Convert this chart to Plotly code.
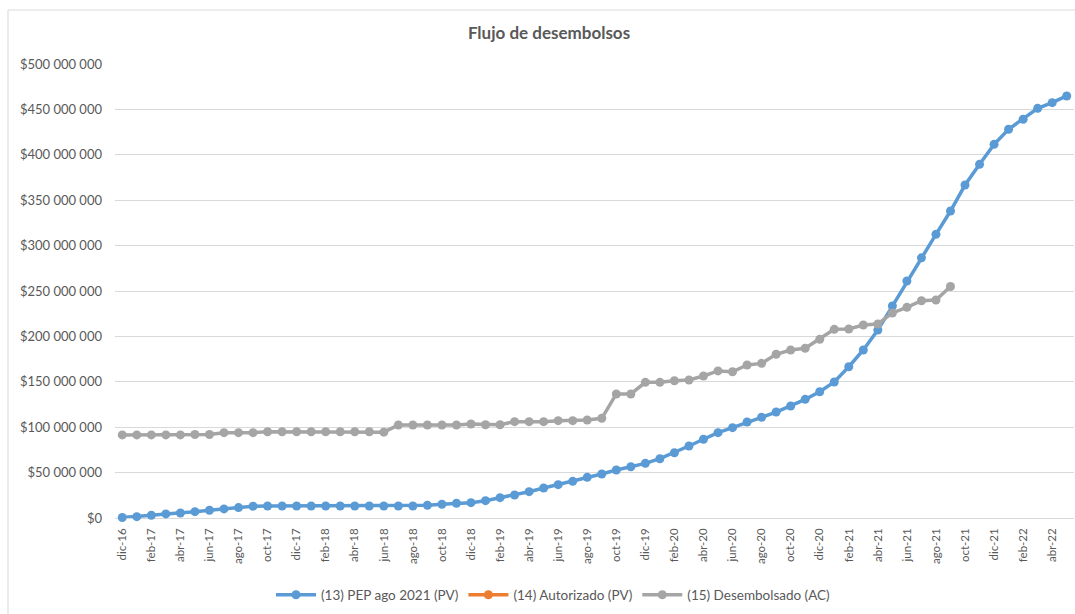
import plotly.graph_objects as go

# Monthly periods, dic-16 .. may-22
months = ["ene", "feb", "mar", "abr", "may", "jun", "jul", "ago", "sep", "oct", "nov", "dic"]
periods = ["dic-16"] + [f"{m}-{y}" for y in range(17, 22) for m in months] + \
          [f"{m}-22" for m in months[:5]]

# (13) PEP ago 2021 (PV) — cumulative, millions of $
pep_mm = [0.5, 1.5, 3.0, 4.5, 5.5, 7.0, 8.5, 10.0, 11.5, 13.0,
          13.2, 13.2, 13.2, 13.2, 13.2, 13.2, 13.2, 13.2, 13.2, 13.2,
          13.2, 14.0, 15.1, 16.2, 16.9, 19.1, 22.4, 25.3, 29.0, 33.0,
          36.7, 40.4, 44.8, 48.5, 52.9, 56.5, 60.2, 65.3, 71.9, 79.3,
          86.7, 94.0, 99.5, 105.7, 110.9, 116.7, 123.3, 130.7, 139.1, 149.8,
          166.6, 185.0, 207.0, 233.5, 261.0, 286.5, 312.4, 338.1, 366.7, 389.5,
          411.5, 428.1, 439.1, 451.2, 457.4, 464.8]

# (14) Autorizado (PV) — no values recorded
autorizado_mm = [None] * len(periods)

# (15) Desembolsado (AC) — cumulative, millions of $, dic-16 .. sep-21
desemb_mm = [91.5, 91.5, 91.5, 91.5, 91.5, 92.0, 92.0, 94.0, 94.0, 94.0,
             95.0, 95.0, 95.0, 95.0, 95.0, 95.0, 95.0, 95.0, 94.5, 102.4,
             102.4, 102.4, 102.4, 102.4, 103.5, 102.7, 102.7, 106.1, 106.1, 106.1,
             107.2, 107.2, 107.9, 109.8, 136.6, 136.6, 149.4, 149.4, 151.2, 152.0,
             156.4, 162.0, 161.1, 168.5, 170.3, 180.3, 185.0, 186.9, 196.8, 207.8,
             208.1, 212.6, 213.7, 225.8, 232.0, 239.3, 240.1, 255.0]

y_ticks = list(range(0, 500_000_001, 50_000_000))
y_labels = ["$" + f"{v:,}".replace(",", " ") for v in y_ticks]
x_ticks = periods[::2]

BLUE, ORANGE, GRAY = "#5B9BD5", "#ED7D31", "#A5A5A5"
TEXT = "#595959"
FONT = "Lato, 'Open Sans', sans-serif"


def to_dollars(vals):
    return [None if v is None else v * 1_000_000 for v in vals]


fig = go.Figure()
series = [
    ("(13) PEP ago 2021 (PV)", periods, pep_mm, BLUE),
    ("(14) Autorizado (PV)", periods, autorizado_mm, ORANGE),
    ("(15) Desembolsado (AC)", periods[:len(desemb_mm)], desemb_mm, GRAY),
]
for name, xs, ys, color in series:
    fig.add_trace(go.Scatter(
        x=xs, y=to_dollars(ys), name=name, mode="lines+markers",
        line=dict(color=color, width=3.5),
        marker=dict(color=color, size=9),
        cliponaxis=False,
    ))

fig.update_layout(
    width=1075, height=614,
    margin=dict(l=115, r=1, t=64, b=96),
    paper_bgcolor="white", plot_bgcolor="white",
    font=dict(family=FONT, color=TEXT, size=12),
    title=dict(text="<b>Flujo de desembolsos</b>", x=549 / 1075, xref="container",
               xanchor="center", y=1 - 33 / 614, yref="container", yanchor="middle",
               font=dict(size=17, color=TEXT, family=FONT)),
    showlegend=True,
    legend=dict(orientation="h", x=(553 - 115) / 959, xanchor="center",
                y=-(595 - 518) / 454, yanchor="middle",
                font=dict(size=13.5, color=TEXT), itemwidth=40,
                traceorder="normal"),
    xaxis=dict(type="category", categoryorder="array", categoryarray=periods,
               range=[-0.5, len(periods) - 0.5],
               tickmode="array", tickvals=x_ticks, ticktext=x_ticks,
               tickangle=-90, tickfont=dict(size=11.5, color=TEXT),
               ticklabelstandoff=7,
               showgrid=False, showline=False, zeroline=False, ticks=""),
    yaxis=dict(range=[0, 500_000_000], tickmode="array", tickvals=y_ticks,
               ticktext=y_labels,
               tickfont=dict(size=13, color=TEXT),
               showgrid=True, gridcolor="#D9D9D9", gridwidth=1,
               zeroline=True, zerolinecolor="#D9D9D9", zerolinewidth=1,
               showline=False, ticks="", ticklabelstandoff=12),
    shapes=[dict(type="rect", xref="paper", yref="paper",
                 x0=-107 / 959, x1=1.05, y0=-0.5, y1=1 + 54 / 454,
                 line=dict(color="#D9D9D9", width=1), fillcolor="rgba(0,0,0,0)",
                 layer="below")],
)

fig.write_html("out.html")
